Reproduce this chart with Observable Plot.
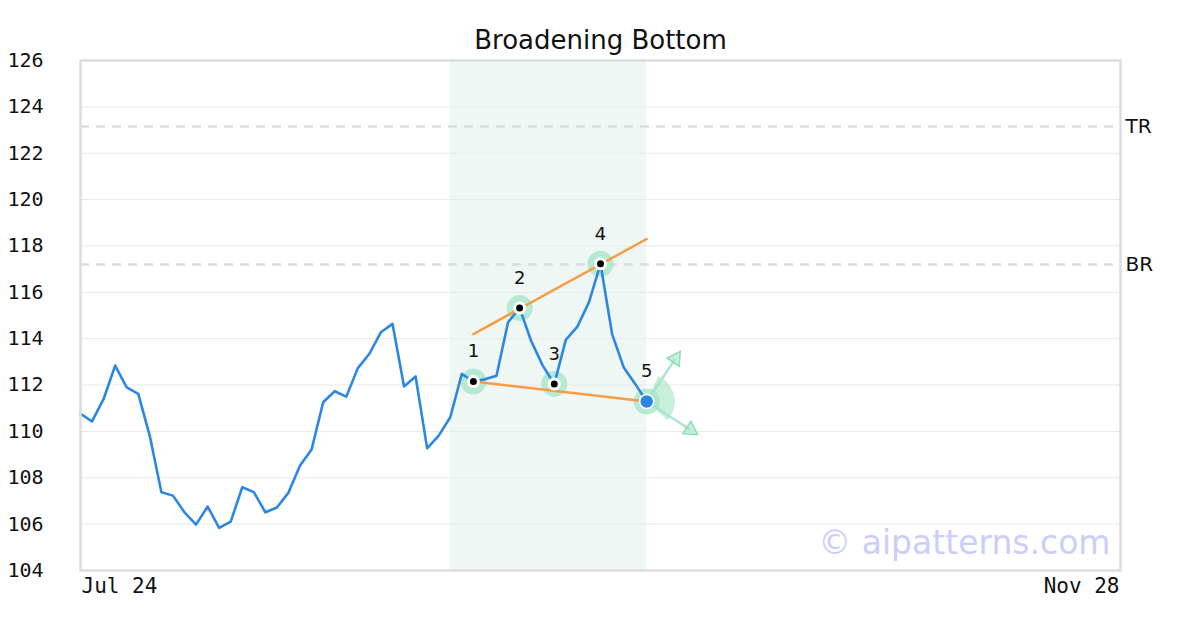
<!DOCTYPE html>
<html>
<head>
<meta charset="utf-8">
<script src="https://cdn.jsdelivr.net/npm/d3@7"></script>
<script src="https://cdn.jsdelivr.net/npm/@observablehq/plot@0.6"></script>
<style>
  html, body { margin: 0; padding: 0; background: #fff; }
  #chart svg { display: block; }
</style>
</head>
<body>
<div id="chart"></div>
<script>
// ---- data ----
const title = "Broadening Bottom";
const prices = [110.76, 110.43, 111.4, 112.84, 111.9, 111.62, 109.8, 107.38, 107.23, 106.51,
  105.98, 106.76, 105.84, 106.11, 107.59, 107.38, 106.51, 106.72, 107.36, 108.53,
  109.22, 111.26, 111.73, 111.5, 112.73, 113.35, 114.28, 114.64, 111.94, 112.37,
  109.27, 109.82, 110.61, 112.48, 112.15, 112.25, 112.4, 114.71, 115.32, 113.9,
  112.84, 112.05, 113.95, 114.52, 115.57, 117.23, 114.21, 112.77, 112.05, 111.29];
const xDomain = [0, 90];
const xTickIdx = [0, 90];
const xTickLabels = ["Jul 24", "Nov 28"];
const yTicks = [104, 106, 108, 110, 112, 114, 116, 118, 120, 122, 124, 126];
const zone = [32, 49];
const pivotIdx = [34, 38, 41, 45, 49];
const pivotLabels = ["1", "2", "3", "4", "5"];
const upperX = [34, 49], upperY = [114.2, 118.3];
const lowerX = [34, 49], lowerY = [112.15, 111.29];
const levelNames = ["TR", "BR"];
const levelValues = [123.15, 117.2];
const arrowEndX = [51.9, 53.4];
const arrowEndY = [113.45, 109.87];
const watermark = "© aipatterns.com";

// ---- derived tables ----
const W = 1200, H = 630, mL = 80, mR = 80, mT = 60, mB = 60;
const pxX = (W - mL - mR) / (xDomain[1] - xDomain[0]);
const pxY = (H - mT - mB) / (yTicks[yTicks.length - 1] - yTicks[0]);
const series = prices.map((v, i) => ({i, v}));
const pivots = pivotIdx.map((i, k) => ({i, v: prices[i], label: pivotLabels[k], last: k === pivotIdx.length - 1}));
const levels = levelNames.map((n, k) => ({n, v: levelValues[k]}));
const last = pivots[pivots.length - 1];
const headR = 5.5;
const tipOffset = 2 * Math.sqrt(headR * headR * Math.PI / (Math.sqrt(3) * 3));
const arrows = arrowEndX.map((x, k) => {
  const x1 = last.i, y1 = last.v, x2 = x, y2 = arrowEndY[k];
  const dx = (x2 - x1) * pxX, dy = -(y2 - y1) * pxY;
  const len = Math.hypot(dx, dy);
  const hx = x2 - (dx / len) * tipOffset / pxX;
  const hy = y2 + (dy / len) * tipOffset / pxY;
  const rot = Math.atan2(dx, -dy) * 180 / Math.PI;
  return {x1, y1, x2, y2, hx, hy, rot};
});

const sector = {
  draw(context, size) {
    const r = Math.sqrt(size / Math.PI);
    const a0 = (24 - 90) * Math.PI / 180, a1 = (132 - 90) * Math.PI / 180;
    context.moveTo(0, 0);
    context.arc(0, 0, r, a0, a1);
    context.closePath();
  }
};

const mono = "DejaVu Sans Mono";
const sans = "DejaVu Sans";
const green = "#a3e4c5";
const chart = Plot.plot({
  width: W, height: H,
  marginLeft: mL, marginRight: mR, marginTop: mT, marginBottom: mB,
  style: {fontFamily: mono, background: "#fff"},
  x: {domain: xDomain, axis: null},
  y: {domain: [yTicks[0], yTicks[yTicks.length - 1]], axis: null},
  marks: [
    Plot.rect([zone], {x1: d => d[0], x2: d => d[1], fill: "#eff7f4"}),
    Plot.gridY(yTicks.slice(1, -1), {stroke: "#e8e8e8", strokeOpacity: 1, strokeWidth: 1}),
    Plot.ruleY(levels, {y: "v", stroke: "#dddddd", strokeWidth: 2.5, strokeDasharray: "9,7"}),
    Plot.text(levels, {y: "v", text: "n", frameAnchor: "right", textAnchor: "start", dx: 5, fontSize: 20, fontFamily: sans, fill: "#111"}),
    Plot.axisY(yTicks, {anchor: "left", tickSize: 0, tickPadding: 37, fontSize: 20, fontFamily: mono, fill: "#111"}),
    Plot.axisX([xTickIdx[0]], {anchor: "bottom", tickSize: 0, tickPadding: 8, textAnchor: "start", dx: 1, fontSize: 21, fontFamily: mono, fill: "#111", tickFormat: () => xTickLabels[0]}),
    Plot.axisX([xTickIdx[1]], {anchor: "bottom", tickSize: 0, tickPadding: 8, textAnchor: "end", dx: -1, fontSize: 21, fontFamily: mono, fill: "#111", tickFormat: () => xTickLabels[1]}),
    Plot.text([watermark], {frameAnchor: "bottom-right", dx: -10, dy: -17, fontSize: 33, fontFamily: sans, fill: "#cdcdfa"}),
    // halos
    Plot.dot([last], {x: "i", y: "v", r: 28, symbol: sector, fill: green, fillOpacity: 0.6, stroke: "none"}),
    Plot.dot(pivots, {x: "i", y: "v", r: 13, fill: green, fillOpacity: 0.75, stroke: "none"}),
    // arrows
    Plot.link(arrows, {x1: "x1", y1: "y1", x2: "hx", y2: "hy", stroke: green, strokeWidth: 2.5, strokeOpacity: 0.9}),
    Plot.dot(arrows, {x: "hx", y: "hy", symbol: "triangle", r: headR, rotate: "rot", fill: green, fillOpacity: 0.6, stroke: "#8fdcb6", strokeWidth: 1.5}),
    // price
    Plot.line(series, {x: "i", y: "v", stroke: "#2c87e2", strokeWidth: 2.6}),
    // trend lines
    Plot.line(upperX.map((x, k) => ({x, y: upperY[k]})), {x: "x", y: "y", stroke: "#f79c42", strokeWidth: 2.5}),
    Plot.line(lowerX.map((x, k) => ({x, y: lowerY[k]})), {x: "x", y: "y", stroke: "#f79c42", strokeWidth: 2.5}),
    // pivot markers
    Plot.dot(pivots.filter(d => !d.last), {x: "i", y: "v", r: 6.5, fill: "#fff", stroke: "none"}),
    Plot.dot(pivots.filter(d => !d.last), {x: "i", y: "v", r: 3.5, fill: "#000", stroke: "none"}),
    Plot.dot(pivots.filter(d => d.last), {x: "i", y: "v", r: 7, fill: "#2c87e2", stroke: "#fff", strokeWidth: 1.5}),
    Plot.text(pivots, {x: "i", y: "v", text: "label", dy: -30, fontSize: 18, fontFamily: sans, fill: "#111"}),
    Plot.frame({stroke: "#dddddd", strokeWidth: 2.5}),
    Plot.text([title], {frameAnchor: "top", lineAnchor: "middle", dy: -20, fontSize: 26, fontFamily: sans, fill: "#111"})
  ]
});
document.getElementById("chart").appendChild(chart);
</script>
</body>
</html>
